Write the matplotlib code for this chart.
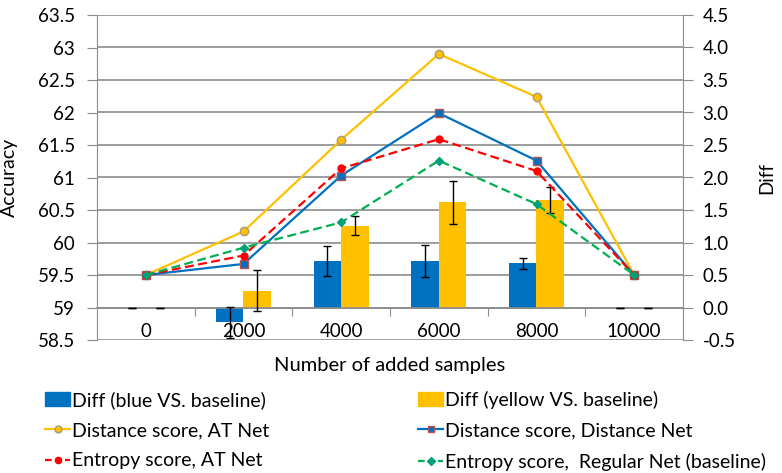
import matplotlib
matplotlib.use("Agg")
import matplotlib.pyplot as plt
import numpy as np
from matplotlib.lines import Line2D
from matplotlib.patches import Patch

plt.rcParams['font.family'] = ['Lato', 'DejaVu Sans']

categories = ['0', '2000', '4000', '6000', '8000', '10000']

# bars (right axis, Diff)
diff_blue = [0.0, -0.23, 0.715, 0.715, 0.68, 0.0]
diff_blue_err = [0.0, 0.24, 0.23, 0.25, 0.085, 0.0]
diff_yellow = [0.0, 0.26, 1.26, 1.62, 1.65, 0.0]
diff_yellow_err = [0.0, 0.31, 0.15, 0.33, 0.2, 0.0]

# lines (left axis, Accuracy)
dist_at = [59.5, 60.17, 61.58, 62.90, 62.24, 59.5]
dist_dist = [59.5, 59.67, 61.03, 61.99, 61.26, 59.5]
ent_at = [59.5, 59.80, 61.14, 61.59, 61.10, 59.5]
ent_reg = [59.5, 59.92, 60.31, 61.26, 60.59, 59.5]

c_blue = '#0070C0'
c_yellow = '#FFC000'
c_red = '#FF0000'
c_green = '#00B050'
c_teal = '#00A07A'
c_grid = '#8C8C8C'
fs = 13.5

fig = plt.figure(figsize=(7.82, 4.73), dpi=100)
ax = fig.add_axes([97 / 782, 1 - 340 / 473, 586 / 782, 325 / 473])
ax2 = ax.twinx()  # lines on top of the bars

x = np.arange(len(categories))
w = 0.28
ax.bar(x - w / 2, diff_blue, w, color=c_blue, zorder=2)
ax.bar(x + w / 2, diff_yellow, w, color=c_yellow, zorder=2)
ax.errorbar(x - w / 2, diff_blue, yerr=diff_blue_err, fmt='none', ecolor='black',
            elinewidth=1, capsize=3, capthick=1, zorder=3)
ax.errorbar(x + w / 2, diff_yellow, yerr=diff_yellow_err, fmt='none', ecolor='black',
            elinewidth=1, capsize=3, capthick=1, zorder=3)

# right axis: Diff
ax.set_xlim(-0.5, 5.5)
ax.set_ylim(-0.5, 4.5)
diff_ticks = np.arange(-0.5, 4.51, 0.5)
ax.set_yticks(diff_ticks)
ax.set_yticklabels(['%.1f' % v for v in diff_ticks])
ax.yaxis.tick_right()
ax.yaxis.set_label_position('right')
ax.set_ylabel('Diff', fontsize=fs)
ax.yaxis.set_label_coords((758 - 97) / 586, 0.5)
ax.grid(axis='y', color=c_grid, linewidth=1.2, zorder=0)
ax.set_axisbelow(True)
ax.tick_params(axis='y', direction='out', length=7, color=c_grid,
               labelsize=fs, pad=7)

# category axis sits at Diff = 0
ax.spines['bottom'].set_position(('data', 0))
ax.spines['bottom'].set_color(c_grid)
ax.spines['bottom'].set_linewidth(1.2)
ax.spines['top'].set_visible(False)
ax.spines['left'].set_color(c_grid)
ax.spines['right'].set_color(c_grid)
ax.set_xticks(np.arange(0.5, 5, 1))
ax.set_xticklabels([])
ax.set_xticks(x, minor=True)
ax.set_xticklabels(categories, minor=True)
ax.tick_params(axis='x', which='major', direction='out', length=6, color=c_grid)
ax.tick_params(axis='x', which='minor', length=0, labelsize=fs, pad=11)
ax.text(0.5, 1 - (365 - 15) / 325, 'Number of added samples', transform=ax.transAxes,
        ha='center', va='center', fontsize=14.5)

# left axis: Accuracy
ax2.set_ylim(58.5, 63.5)
acc_ticks = np.arange(58.5, 63.51, 0.5)
ax2.set_yticks(acc_ticks)
ax2.set_yticklabels(['%g' % v for v in acc_ticks])
ax2.yaxis.tick_left()
ax2.yaxis.set_label_position('left')
ax2.set_ylabel('Accuracy', fontsize=14)
ax2.yaxis.set_label_coords((18 - 97) / 586, 0.5)
ax2.tick_params(axis='y', direction='out', length=7, color=c_grid, labelsize=fs, pad=9)
for s in ax2.spines.values():
    s.set_visible(False)

ax2.plot(x, dist_at, color=c_yellow, lw=1.6, marker='o', ms=6,
         mfc=c_yellow, mec='#A89A80', mew=1, zorder=5)
ax2.plot(x, dist_dist, color=c_blue, lw=1.6, marker='s', ms=5.5,
         mfc=c_blue, mec='#C0504D', mew=1, zorder=5)
ax2.plot(x, ent_at, color=c_red, lw=1.6, ls=(0, (4, 2)), marker='o', ms=5,
         mfc=c_red, mec=c_red, zorder=5)
ax2.plot(x, ent_reg, color=c_green, lw=1.6, ls=(0, (4, 2)), marker='D', ms=4.5,
         mfc=c_teal, mec=c_teal, zorder=5)

col1 = [
    (Patch(color=c_blue), 'Diff (blue VS. baseline)'),
    (Line2D([], [], color=c_yellow, lw=1.6, marker='o', ms=5, mfc=c_yellow, mec='#A89A80'),
     'Distance score, AT Net'),
    (Line2D([], [], color=c_red, lw=1.6, ls=(0, (3, 1.5)), marker='o', ms=4.5, mfc=c_red),
     'Entropy score, AT Net'),
]
col2 = [
    (Patch(color=c_yellow), 'Diff (yellow VS. baseline)'),
    (Line2D([], [], color=c_blue, lw=1.6, marker='s', ms=5, mfc=c_blue, mec='#C0504D'),
     'Distance score, Distance Net'),
    (Line2D([], [], color=c_green, lw=1.6, ls=(0, (3, 1.5)), marker='D', ms=4, mfc=c_teal, mec=c_teal),
     'Entropy score,  Regular Net (baseline)'),
]
for items, x0 in ((col1, 45), (col2, 418)):
    fig.legend([h for h, _ in items], [t for _, t in items], loc='upper left',
               bbox_to_anchor=(x0 / 782, 1 - 391 / 473), frameon=False, fontsize=14,
               handlelength=1.3, handletextpad=0.1, labelspacing=0.68, borderpad=0,
               borderaxespad=0)

fig.savefig('out.png', dpi=100)
